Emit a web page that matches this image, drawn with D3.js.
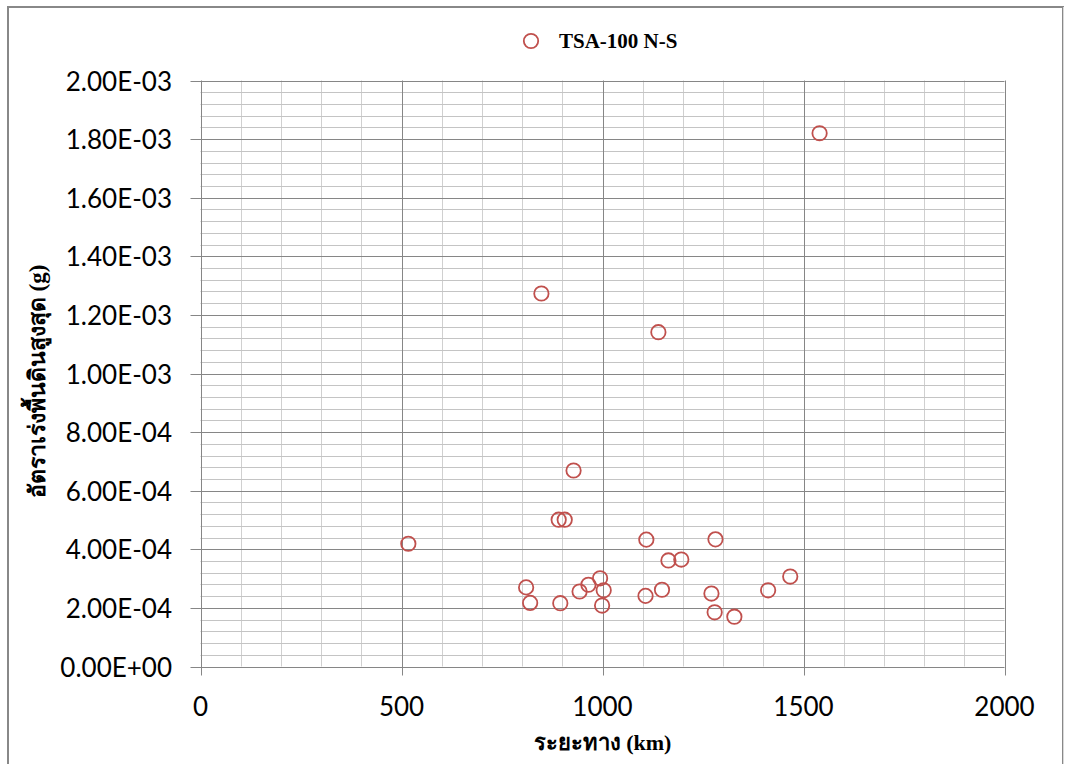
<!DOCTYPE html>
<html>
<head>
<meta charset="utf-8">
<script src="https://cdn.jsdelivr.net/npm/d3@7"></script>
<style>
  html, body { margin: 0; padding: 0; background: #fff; }
  svg { display: block; }
</style>
</head>
<body>
<svg id="chart" width="1065" height="764"></svg>
<script>
// ---- data ----
const seriesName = "TSA-100 N-S";
const distanceKm = [517, 810, 820, 848, 891, 895, 906, 928, 943, 965, 994, 999, 1003, 1107, 1109, 1139, 1148, 1164, 1196, 1271, 1279, 1281, 1328, 1412, 1467, 1540];
const pga = [4.19e-4, 2.70e-4, 2.17e-4, 1.273e-3, 5.01e-4, 2.16e-4, 5.01e-4, 6.69e-4, 2.56e-4, 2.79e-4, 3.01e-4, 2.08e-4, 2.60e-4, 2.41e-4, 4.33e-4, 1.141e-3, 2.62e-4, 3.62e-4, 3.65e-4, 2.49e-4, 1.85e-4, 4.34e-4, 1.70e-4, 2.60e-4, 3.07e-4, 1.820e-3];
const xTicks = [0, 500, 1000, 1500, 2000];
const yTicks = [0, 2e-4, 4e-4, 6e-4, 8e-4, 1e-3, 1.2e-3, 1.4e-3, 1.6e-3, 1.8e-3, 2e-3];
const yTickLabels = ["0.00E+00", "2.00E-04", "4.00E-04", "6.00E-04", "8.00E-04", "1.00E-03", "1.20E-03", "1.40E-03", "1.60E-03", "1.80E-03", "2.00E-03"];
const xMinorStep = 100;
const yMinorStep = 4e-5;
const xTitle = "ระยะทาง (km)";
const yTitle = "อัตราเร่งพื้นดินสูงสุด (g)";

(function () {
// ---- layout ----
const svg = d3.select("#chart");
const pLeft = 200.5, pRight = 1004.5, pTop = 80.5, pBottom = 666.5;
const x = d3.scaleLinear().domain([0, 2000]).range([pLeft, pRight]);
const y = d3.scaleLinear().domain([0, 2e-3]).range([pBottom, pTop]);

const red = "#C0504D";
const major = "#868686";
const minor = "#D0D0D0";

// outer chart border
svg.append("rect").attr("x", 8).attr("y", 7).attr("width", 1055).attr("height", 800)
  .attr("fill", "#fff").attr("stroke", "#888").attr("stroke-width", 2);
svg.append("line").attr("x1", 1063.5).attr("x2", 1063.5).attr("y1", 7).attr("y2", 764)
  .attr("stroke", "#d9d9d9").attr("stroke-width", 1);

const g = svg.append("g");

// minor gridlines
const xMinor = d3.range(0, 2000 + 1e-9, xMinorStep).filter(v => v % 500 !== 0);
const yMinor = d3.range(0, 2e-3 + 1e-12, yMinorStep).map(v => +v.toFixed(8))
  .filter(v => Math.abs(v / 2e-4 - Math.round(v / 2e-4)) > 1e-6);

g.selectAll(".xminor").data(xMinor).join("line")
  .attr("x1", d => Math.round(x(d)) + 0.5).attr("x2", d => Math.round(x(d)) + 0.5)
  .attr("y1", pTop).attr("y2", pBottom)
  .attr("stroke", minor).attr("stroke-width", 1);
g.selectAll(".yminor").data(yMinor).join("line")
  .attr("x1", pLeft).attr("x2", pRight)
  .attr("y1", d => Math.round(y(d)) + 0.5).attr("y2", d => Math.round(y(d)) + 0.5)
  .attr("stroke", "#C4C4C4").attr("stroke-width", 1);

// major gridlines (with outside ticks)
g.selectAll(".xmajor").data(xTicks).join("line")
  .attr("x1", d => Math.round(x(d)) + 0.5).attr("x2", d => Math.round(x(d)) + 0.5)
  .attr("y1", pTop).attr("y2", pBottom + 9)
  .attr("stroke", major).attr("stroke-width", 1);
g.selectAll(".ymajor").data(yTicks).join("line")
  .attr("x1", pLeft - 10).attr("x2", pRight)
  .attr("y1", d => Math.round(y(d)) + 0.5).attr("y2", d => Math.round(y(d)) + 0.5)
  .attr("stroke", major).attr("stroke-width", 1);

// tick labels
const tickFont = "Lato, 'Open Sans', sans-serif";
g.selectAll(".ylab").data(yTicks).join("text")
  .attr("x", 172).attr("y", d => y(d))
  .attr("text-anchor", "end").attr("dominant-baseline", "central")
  .attr("font-family", tickFont).attr("font-size", 26).attr("fill", "#000")
  .text((d, i) => yTickLabels[i]);
g.selectAll(".xlab").data(xTicks).join("text")
  .attr("x", d => x(d)).attr("y", 706)
  .attr("text-anchor", "middle").attr("dominant-baseline", "central")
  .attr("font-family", tickFont).attr("font-size", 26).attr("fill", "#000")
  .text(d => d);

// axis titles
svg.append("text").attr("x", (pLeft + pRight) / 2).attr("y", 750)
  .attr("text-anchor", "middle")
  .attr("font-family", "'Liberation Serif', 'Times New Roman', serif")
  .attr("font-weight", "bold").attr("font-size", 22).attr("fill", "#000")
  .text(xTitle);
svg.append("text")
  .attr("transform", `translate(45, ${(pTop + pBottom) / 2 + 8}) rotate(-90)`)
  .attr("text-anchor", "middle")
  .attr("font-family", "'Liberation Serif', 'Times New Roman', serif")
  .attr("font-weight", "bold").attr("font-size", 23).attr("fill", "#000")
  .text(yTitle);

// points
g.selectAll(".pt").data(distanceKm.map((d, i) => [d, pga[i]])).join("circle")
  .attr("cx", d => x(d[0])).attr("cy", d => y(d[1])).attr("r", 7.2)
  .attr("fill", "none").attr("stroke", red).attr("stroke-width", 1.8);

// legend
svg.append("circle").attr("cx", 531).attr("cy", 41).attr("r", 7.2)
  .attr("fill", "none").attr("stroke", red).attr("stroke-width", 1.8);
svg.append("text").attr("x", 559).attr("y", 48)
  .attr("font-family", "'Liberation Serif', 'Times New Roman', serif")
  .attr("font-weight", "bold").attr("font-size", 21).attr("fill", "#000")
  .text(seriesName);
})();
</script>
</body>
</html>
